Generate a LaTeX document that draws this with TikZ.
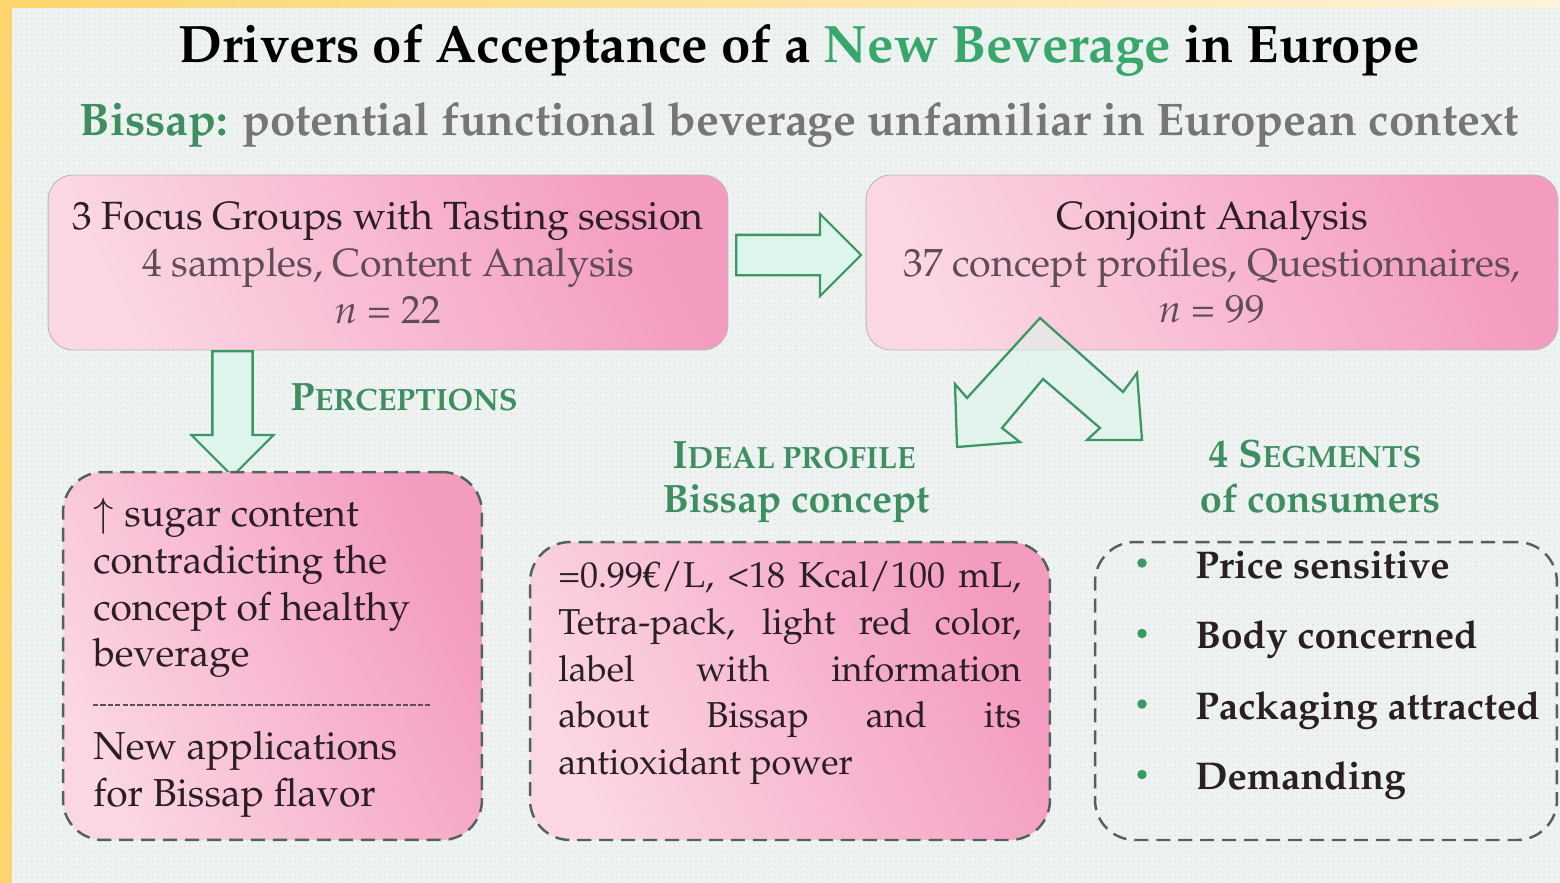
\documentclass[tikz,border=0pt]{standalone}
\usepackage[T1]{fontenc}
\usepackage{mathpazo}
\usetikzlibrary{shapes.arrows,patterns}

\definecolor{bgcol}{HTML}{EEF3F2}
\definecolor{dotcol}{HTML}{DCE2E1}
\definecolor{frameyellow}{HTML}{FCD56C}
\definecolor{framecream}{HTML}{FDF3DA}
\definecolor{titlegreen}{HTML}{36A86B}
\definecolor{labelgreen}{HTML}{3D8F60}
\definecolor{arrowgreen}{HTML}{3A9963}
\definecolor{arrowfill}{HTML}{DDF5EC}
\definecolor{pinklight}{HTML}{FBD6E3}
\definecolor{pinkdeep}{HTML}{F49BC0}
\definecolor{inkdark}{HTML}{2A1F25}
\definecolor{inkgray}{HTML}{5E4C56}
\definecolor{subgray}{HTML}{767676}
\definecolor{dashgray}{HTML}{52635B}

\newcommand{\capfirst}[2]{#1{\fontsize{17.5}{20}\selectfont #2}}

\tikzset{
  pinkfill/.style={left color=pinklight, right color=pinkdeep, shading angle=115},
  topbox/.style={rectangle, rounded corners=0.5cm, draw=gray!55, line width=0.5pt,
    pinkfill, minimum width=13.6cm, minimum height=3.5cm, align=center,
    text=inkdark, font=\fontsize{22.4}{26.5}\selectfont},
  dashbox/.style={rectangle, rounded corners=0.8cm, draw=dashgray, line width=1.4pt,
    dash pattern=on 8pt off 4.5pt},
  blockarrow/.style={single arrow, draw=arrowgreen, fill=arrowfill, line width=1.3pt,
    single arrow head extend=0.42cm, inner xsep=0pt, inner ysep=0.38cm,
    minimum height=2.5cm, anchor=tail},
  arrowline/.style={draw=arrowgreen, fill=arrowfill, fill opacity=0.6, line width=1.3pt,
    line join=miter},
  titletext/.style={anchor=base, inner sep=0pt, font=\fontsize{30}{36}\selectfont\bfseries},
  subtitle/.style={anchor=base, inner sep=0pt, text=subgray,
    font=\fontsize{26}{30}\selectfont\bfseries},
  heading/.style={inner sep=0pt, text=labelgreen, font=\fontsize{22.5}{26}\selectfont\bfseries},
  bodytext/.style={anchor=north west, inner sep=0pt, align=left, text=inkdark,
    font=\fontsize{22.2}{26.5}\selectfont},
  divider/.style={draw=inkgray, line width=1pt, dash pattern=on 3pt off 1.2pt},
  segdot/.style={circle, fill=arrowgreen, inner sep=0pt, minimum size=0.19cm},
  segtext/.style={anchor=base west, inner sep=0pt, text=inkdark,
    font=\fontsize{22}{25}\selectfont\bfseries},
}

\begin{document}
\begin{tikzpicture}[x=0.02cm, y=-0.02cm]
  % background and frame
  \fill[bgcol] (0,0) rectangle (1560,883);
  \fill[pattern=dots, pattern color=dotcol] (0,0) rectangle (1560,883);
  \shade[left color=frameyellow, right color=framecream] (0,0) rectangle (1560,7);
  \fill[frameyellow] (0,0) rectangle (12,883);
  \useasboundingbox (0,0) rectangle (1560,883);

  % title
  \node[titletext] (title) at (799,62)
    {Drivers of Acceptance of a \textcolor{titlegreen}{New Beverage} in Europe};
  \node[subtitle] (subtitle) at (799,135)
    {\textcolor{labelgreen}{Bissap:} potential functional beverage unfamiliar in European context};

  % methods
  \node[topbox] (focus) at (388,262.5)
    {3 Focus Groups with Tasting session\\
     \textcolor{inkgray}{4 samples, Content Analysis}\\
     \textcolor{inkgray}{$n$ = 22}};
  \node[topbox, minimum width=13.84cm] (conjoint) at (1212,262.5)
    {Conjoint Analysis\\
     \textcolor{inkgray}{37 concept profiles, Questionnaires,}\\
     \textcolor{inkgray}{$n$ = 99}};
  \node[blockarrow] (toconj) at (735,255) {};
  \node[blockarrow, rotate=-90] (toperc) at (232.5,350) {};
  \draw[arrowline] (1040,318) -- (1123,392) -- (1137,373) -- (1142,440) -- (1087,440)
    -- (1100,428) -- (1043,379) -- (1002,428) -- (1020,442) -- (957,447)
    -- (955,384) -- (967,398) -- cycle;

  % perceptions
  \node[heading, anchor=base west] (perchead) at (290,410) {\capfirst{P}{ERCEPTIONS}};
  \node[dashbox, pinkfill, minimum width=8.38cm, minimum height=7.36cm] (percbox) at (272.5,656) {};
  \node[bodytext] (perctext) at (93,494)
    {\strut$\uparrow$ sugar content\\ contradicting the\\ concept of healthy\\ beverage\\[26.5pt]
     New applications\\ for Bissap flavor};
  \draw[divider] (93,705) -- (432,705);

  % ideal profile
  \node[heading, anchor=base] (idealhead) at (794,468) {\capfirst{I}{DEAL PROFILE}};
  \node[heading, anchor=base] (idealsub) at (796,512) {Bissap concept};
  \node[dashbox, pinkfill, minimum width=10.4cm, minimum height=5.96cm] (idealbox) at (790,691) {};
  \node[bodytext, text width=9.26cm, align=justify, font=\fontsize{20.5}{26.5}\selectfont]
    (idealtext) at (558,555)
    {\strut=0.99\texteuro/L, <18 Kcal/100 mL,\linebreak Tetra-pack, light red color,\linebreak
     label with information\linebreak about Bissap and its\linebreak antioxidant power};

  % segments
  \node[heading, anchor=base] (seghead) at (1315,467) {4 \capfirst{S}{EGMENTS}};
  \node[heading, anchor=base] (segsub) at (1320,512) {of consumers};
  \node[dashbox, minimum width=9.24cm, minimum height=5.96cm] (segbox) at (1326,691) {};
  \foreach \seg [count=\i] in {Price sensitive, Body concerned, Packaging attracted, Demanding}
  {
    \node[segdot] (dot\i) at (1142,{563+70.5*(\i-1)}) {};
    \node[segtext] (seg\i) at (1195,{578+70.5*(\i-1)}) {\seg};
  }
\end{tikzpicture}
\end{document}
